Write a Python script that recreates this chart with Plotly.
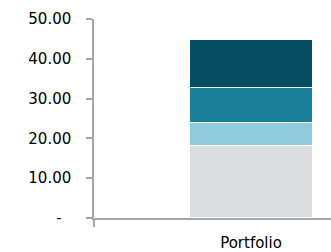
import plotly.graph_objects as go

categories = ["Portfolio"]
series_names = ["Segment 1", "Segment 2", "Segment 3", "Segment 4"]
series_values = [[18.2], [5.8], [8.8], [12.2]]
series_colors = ["#DCDDDE", "#90CCDB", "#1B7F99", "#034E60"]
tick_vals = [0, 10, 20, 30, 40, 50]
tick_text = ["-\u00a0\u00a0", "10.00", "20.00", "30.00", "40.00", "50.00"]

fig = go.Figure()
for name, vals, col in zip(series_names, series_values, series_colors):
    fig.add_trace(go.Bar(
        x=categories, y=vals, name=name, width=0.395,
        marker=dict(color=col, line=dict(color="white", width=1.5)),
    ))

font_family = "DejaVu Sans, Verdana, sans-serif"
fig.update_layout(
    barmode="stack",
    width=331, height=252,
    margin=dict(l=94, r=0, t=19, b=34),
    paper_bgcolor="white", plot_bgcolor="white",
    showlegend=False,
    font=dict(family=font_family, size=15, color="#000000"),
    xaxis=dict(
        type="category", range=[-0.5, 0.2548], automargin=False,
        showline=True, linecolor="#A6A6A6", linewidth=1.5,
        ticks="outside", tickson="boundaries", ticklen=7, tickcolor="#A6A6A6", tickwidth=1.5,
        showgrid=False, zeroline=False,
        ticklabelstandoff=10,
        tickfont=dict(size=15),
    ),
    yaxis=dict(
        range=[0, 50], tickvals=tick_vals, ticktext=tick_text, automargin=False,
        showline=True, linecolor="#A6A6A6", linewidth=1.5,
        ticks="outside", ticklen=6, tickcolor="#A6A6A6", tickwidth=1.5,
        showgrid=False, zeroline=False,
        ticklabelstandoff=12,
        tickfont=dict(size=15),
    ),
)
fig.write_html(
    "out.html",
    config={"displayModeBar": False},
    post_script="document.body.style.margin='0';document.body.style.overflow='hidden';",
)
